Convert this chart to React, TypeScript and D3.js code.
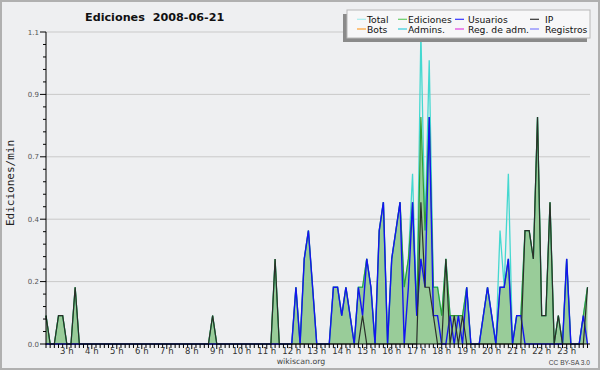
import React from "react";
import * as d3 from "d3";

// ---- data: 10-minute bins from 02:10 to 23:50 (edits per minute) ----
const START_HOUR = 2 + 10 / 60;
const END_HOUR = 23 + 56 / 60;

const hourLabels = ["3 h", "4 h", "5 h", "6 h", "7 h", "8 h", "9 h", "10 h", "11 h", "12 h", "13 h", "14 h", "15 h", "16 h", "17 h", "18 h", "19 h", "20 h", "21 h", "22 h", "23 h"];
const hourValues = [3, 4, 5, 6, 7, 8, 9, 10, 11, 12, 13, 14, 15, 16, 17, 18, 19, 20, 21, 22, 23];

const yTickValues = [0, 0.22, 0.44, 0.66, 0.88, 1.1];
const yTickLabels = ["0.0", "0.2", "0.4", "0.7", "0.9", "1.1"];

const ip = [
  0.1, 0, 0, 0.1, 0.1, // 02
  0, 0, 0.2, 0, 0, 0, // 03
  0, 0, 0, 0, 0, 0, // 04
  0, 0, 0, 0, 0, 0, // 05
  0, 0, 0, 0, 0, 0, // 06
  0, 0, 0, 0, 0, 0, // 07
  0, 0, 0, 0, 0, 0.1, // 08
  0, 0, 0, 0, 0, 0, // 09
  0, 0, 0, 0, 0, 0, // 10
  0, 0, 0.3, 0, 0, 0, // 11
  0, 0, 0, 0, 0, 0, // 12
  0, 0, 0, 0, 0, 0, // 13
  0, 0, 0, 0, 0, 0.1, // 14
  0, 0, 0, 0, 0, 0, // 15
  0, 0, 0, 0, 0, 0, // 16
  0, 0.5, 0.2, 0.2, 0.1, 0, // 17
  0, 0.3, 0, 0.1, 0, 0.1, // 18
  0, 0, 0, 0, 0, 0, // 19
  0, 0, 0, 0, 0, 0, // 20
  0, 0, 0.4, 0.4, 0.3, 0.8, // 21
  0.1, 0.1, 0.5, 0, 0.1, 0, // 22
  0, 0, 0, 0, 0, 0.2, // 23
];

const usuarios = [
  0, 0, 0, 0, 0, // 02
  0, 0, 0, 0, 0, 0, // 03
  0, 0, 0, 0, 0, 0, // 04
  0, 0, 0, 0, 0, 0, // 05
  0, 0, 0, 0, 0, 0, // 06
  0, 0, 0, 0, 0, 0, // 07
  0, 0, 0, 0, 0, 0, // 08
  0, 0, 0, 0, 0, 0, // 09
  0, 0, 0, 0, 0, 0, // 10
  0, 0, 0, 0, 0, 0, // 11
  0, 0.2, 0, 0.3, 0.4, 0.2, // 12
  0, 0, 0, 0, 0.2, 0.2, // 13
  0.1, 0.2, 0.1, 0, 0.2, 0.1, // 14
  0.3, 0.2, 0, 0.4, 0.5, 0, // 15
  0.3, 0.4, 0.5, 0, 0.2, 0.5, // 16
  0.1, 0.3, 0.2, 0.8, 0.1, 0.1, // 17
  0, 0, 0.1, 0, 0.1, 0, // 18
  0.2, 0, 0, 0, 0.1, 0.2, // 19
  0.1, 0, 0.2, 0.2, 0.3, 0, // 20
  0.1, 0.1, 0, 0, 0, 0, // 21
  0, 0, 0, 0, 0, 0, // 22
  0.3, 0, 0, 0, 0.1, 0, // 23
];

const ediciones = [
  0.1, 0, 0, 0.1, 0.1, // 02
  0, 0, 0.2, 0, 0, 0, // 03
  0, 0, 0, 0, 0, 0, // 04
  0, 0, 0, 0, 0, 0, // 05
  0, 0, 0, 0, 0, 0, // 06
  0, 0, 0, 0, 0, 0, // 07
  0, 0, 0, 0, 0, 0.1, // 08
  0, 0, 0, 0, 0, 0, // 09
  0, 0, 0, 0, 0, 0, // 10
  0, 0, 0.3, 0, 0, 0, // 11
  0, 0.2, 0, 0.3, 0.4, 0.2, // 12
  0, 0, 0, 0, 0.2, 0.2, // 13
  0.1, 0.2, 0.1, 0, 0.2, 0.2, // 14
  0.3, 0.2, 0, 0.4, 0.5, 0, // 15
  0.3, 0.4, 0.5, 0.2, 0.3, 0.5, // 16
  0.1, 0.8, 0.4, 0.8, 0.2, 0.2, // 17
  0.1, 0.3, 0.1, 0.1, 0.1, 0.1, // 18
  0.2, 0, 0, 0, 0.1, 0.2, // 19
  0.1, 0, 0.2, 0.2, 0.3, 0, // 20
  0.1, 0.1, 0.4, 0.4, 0.3, 0.8, // 21
  0.1, 0.1, 0.5, 0, 0.1, 0, // 22
  0.3, 0, 0, 0, 0.1, 0.2, // 23
];

const total = [
  0.1, 0, 0, 0.1, 0.1, // 02
  0, 0, 0.2, 0, 0, 0, // 03
  0, 0, 0, 0, 0, 0, // 04
  0, 0, 0, 0, 0, 0, // 05
  0, 0, 0, 0, 0, 0, // 06
  0, 0, 0, 0, 0, 0, // 07
  0, 0, 0, 0, 0, 0.1, // 08
  0, 0, 0, 0, 0, 0, // 09
  0, 0, 0, 0, 0, 0, // 10
  0, 0, 0.3, 0, 0, 0, // 11
  0, 0.2, 0, 0.3, 0.4, 0.2, // 12
  0, 0, 0, 0, 0.2, 0.2, // 13
  0.1, 0.2, 0.1, 0, 0.2, 0.2, // 14
  0.3, 0.2, 0, 0.4, 0.5, 0, // 15
  0.3, 0.4, 0.5, 0.2, 0.3, 0.6, // 16
  0.1, 1.1, 0.4, 1.0, 0.2, 0.2, // 17
  0.1, 0.3, 0.1, 0.1, 0.1, 0.1, // 18
  0.2, 0, 0, 0, 0.1, 0.2, // 19
  0.1, 0, 0.4, 0.2, 0.6, 0, // 20
  0.1, 0.1, 0.4, 0.4, 0.3, 0.8, // 21
  0.1, 0.1, 0.5, 0, 0.1, 0, // 22
  0.3, 0, 0, 0, 0.1, 0.2, // 23
];

const legendLabels = ["Total", "Ediciones", "Usuarios", "IP", "Bots", "Admins.", "Reg. de adm.", "Registros"];
const legendColors = ["#a8ecec", "#66cc66", "#3333ff", "#333333", "#ffa030", "#33ccdd", "#e040e0", "#7f7fff"];

const W = 600;
const H = 370;

export default function App() {
  const x = d3.scaleLinear().domain([START_HOUR, END_HOUR]).range([46, 590]);
  const y = d3.scaleLinear().domain([0, 1.1]).range([344, 32]);
  const tOf = (i: number) => START_HOUR + i / 6;

  const area = d3
    .area<number>()
    .x((_, i) => x(tOf(i)))
    .y0(y(0))
    .y1((d) => y(d));
  const line = d3
    .line<number>()
    .x((_, i) => x(tOf(i)))
    .y((d) => y(d));

  const minorY = d3.range(0, 26).map((k) => (k * 1.1) / 25);
  const xTicks = d3.range(0, 131).map((i) => tOf(i));

  const font = "'DejaVu Sans', sans-serif";

  return (
    <div style={{ position: "fixed", left: 0, top: 0, width: W, height: H }}>
      <svg width={W} height={H} style={{ display: "block" }}>
        <rect x={0} y={0} width={W} height={H} fill="#eeeff1" />
        <rect x={1} y={1} width={W - 2} height={H - 2} fill="none" stroke="#b0b0b0" strokeWidth={2} />

        {/* title */}
        <text x={85} y={21} fontFamily={font} fontWeight="bold" fontSize={11.2} fill="#111">
          Ediciones{"\u00a0\u00a0"}2008-06-21
        </text>

        {/* grid */}
        {yTickValues.slice(1).map((v) => (
          <line key={"g" + v} x1={46} x2={590} y1={y(v)} y2={y(v)} stroke="#c9c9c9" strokeWidth={1} />
        ))}

        {/* series */}
        <path d={area(ediciones) || ""} fill="#99cc99" stroke="none" />
        <path d={line(total) || ""} fill="none" stroke="#44d8d0" strokeWidth={1.3} />
        <path d={line(ediciones) || ""} fill="none" stroke="#33a033" strokeWidth={1.2} />
        <path d={line(usuarios) || ""} fill="none" stroke="#1414f0" strokeWidth={1.4} />
        <path d={line(ip) || ""} fill="none" stroke="#2a2f2a" strokeWidth={1.2} />

        {/* axes */}
        <line x1={46} x2={46} y1={32} y2={344.5} stroke="#000" strokeWidth={1} />
        <line x1={45.5} x2={590} y1={344} y2={344} stroke="#000" strokeWidth={1.2} />
        {minorY.map((v, k) => (
          <line key={"my" + k} x1={k % 5 === 0 ? 40 : 43} x2={46} y1={y(v)} y2={y(v)} stroke="#000" strokeWidth={1} />
        ))}
        {yTickValues.map((v, k) => (
          <text key={"yl" + k} x={39} y={y(v) + 2.5} textAnchor="end" fontFamily={font} fontSize={7} fill="#555">
            {yTickLabels[k]}
          </text>
        ))}
        {xTicks.map((t, k) => (
          <line key={"xt" + k} x1={x(t)} x2={x(t)} y1={344} y2={Math.abs(t - Math.round(t)) < 1e-6 ? 349 : 348} stroke="#000" strokeWidth={1} />
        ))}
        {hourValues.map((h, k) => (
          <text key={"xl" + k} x={x(h)} y={353.5} textAnchor="middle" fontFamily={font} fontSize={8.5} fill="#333">
            {hourLabels[k]}
          </text>
        ))}

        {/* axis title */}
        <text
          transform="translate(13.5,183) rotate(-90)"
          textAnchor="middle"
          fontFamily="'DejaVu Sans Mono', monospace"
          fontSize={11}
          fill="#222"
        >
          Ediciones/min
        </text>

        <text x={301} y={363.5} textAnchor="middle" fontFamily={font} fontSize={7.8} fill="#444">
          wikiscan.org
        </text>
        <text x={590} y={365} textAnchor="end" fontFamily="'Liberation Sans', Arial, sans-serif" fontSize={6.6} fill="#444">
          CC BY-SA 3.0
        </text>

        {/* legend */}
        <rect x={343} y={14} width={244} height={28} fill="#8a8a8a" />
        <rect x={347} y={10} width={243} height={28} fill="#f7f7f8" stroke="#b8b8b8" strokeWidth={1} />
        {legendLabels.map((lab, k) => {
          const col = k % 4;
          const row = Math.floor(k / 4);
          const lx = [357, 398, 455, 530][col];
          const tx = [367, 408, 468, 545][col];
          const ly = row === 0 ? 19.3 : 29;
          return (
            <g key={"lg" + k}>
              <line x1={lx} x2={lx + 9} y1={ly} y2={ly} stroke={legendColors[k]} strokeWidth={1.2} />
              <text x={tx} y={ly + 3.5} fontFamily={font} fontSize={9.2} fill="#111">
                {lab}
              </text>
            </g>
          );
        })}
      </svg>
    </div>
  );
}
